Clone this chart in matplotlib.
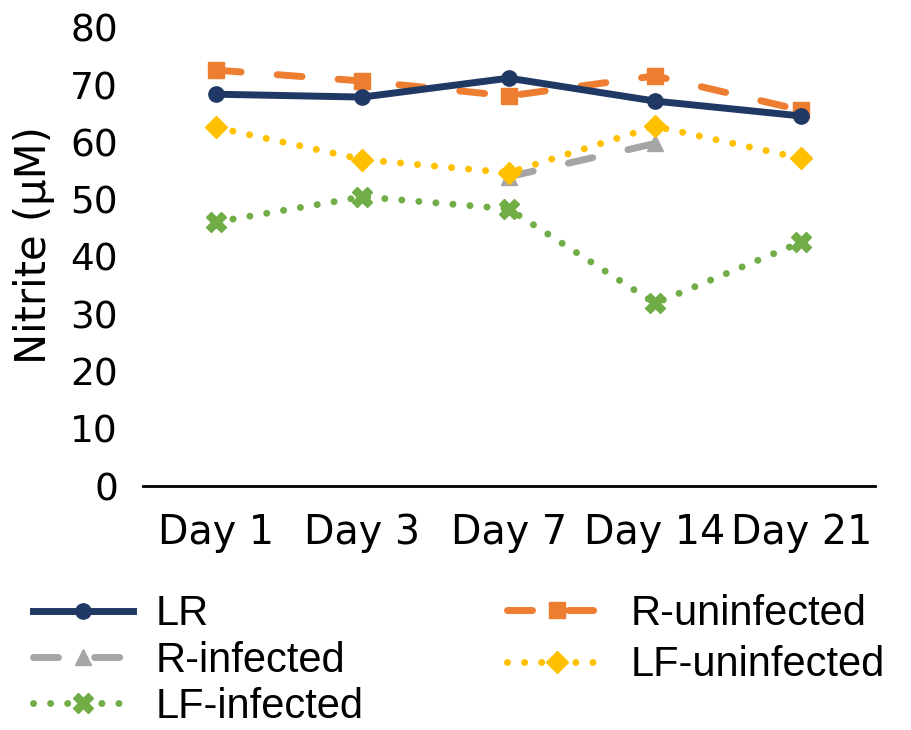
import numpy as np
import matplotlib
matplotlib.use("Agg")
import matplotlib.pyplot as plt

days = ["Day 1", "Day 3", "Day 7", "Day 14", "Day 21"]
lr = [68.4, 67.9, 71.2, 67.2, 64.6]
r_uninf = [72.6, 70.7, 68.1, 71.6, 65.6]
r_inf = [np.nan, np.nan, 54.0, 59.8, np.nan]
lf_uninf = [62.6, 57.0, 54.7, 62.8, 57.2]
lf_inf = [46.1, 50.5, 48.4, 31.9, 42.6]

plt.rcParams["font.family"] = ["DejaVu Sans"]

fig = plt.figure(figsize=(9.11, 7.3), dpi=100)
ax = fig.add_axes([0.157, 0.334, 0.803, 0.628])
x = np.arange(len(days))

lw = 5
l1, = ax.plot(x, lr, color="#203864", lw=lw, marker="o", ms=11, label="LR", zorder=5)
l2, = ax.plot(x, r_uninf, color="#ED7D31", lw=lw, marker="s", ms=11, label="R-uninfected",
              dashes=(3.6, 5.2), dash_capstyle="round", zorder=4)
l3, = ax.plot(x, r_inf, color="#A5A5A5", lw=lw, marker="^", ms=12, label="R-infected",
              dashes=(3.6, 5.2), dash_capstyle="round", zorder=2)
l4, = ax.plot(x, lf_uninf, color="#FFC000", lw=lw, marker="D", ms=11, label="LF-uninfected",
              dashes=(0.01, 2.45), dash_capstyle="round", zorder=3)
l5, = ax.plot(x, lf_inf, color="#70AD47", lw=lw, marker="X", ms=15, label="LF-infected",
              dashes=(0.01, 2.45), dash_capstyle="round", zorder=3)

ax.set_xlim(-0.5, 4.5)
ax.set_ylim(0, 80)
ax.set_yticks(range(0, 81, 10))
ax.set_xticks(x)
ax.set_xticklabels(days)
for s in ["top", "right", "left"]:
    ax.spines[s].set_visible(False)
ax.spines["bottom"].set_color("black")
ax.spines["bottom"].set_linewidth(2)
ax.tick_params(axis="y", length=0, labelsize=27, pad=18)
ax.tick_params(axis="x", length=0, labelsize=28.5, pad=19)
ax.set_ylabel("Nitrite (µM)", fontsize=30)
ax.yaxis.set_label_coords(-0.121, 0.526)

# two legends so each column gets its own row spacing, like the original
leg_font = {"family": "Liberation Sans", "size": 30}
common = dict(frameon=False, prop=leg_font, handlelength=2.4, handletextpad=0.55,
              borderpad=0, borderaxespad=0, loc="center left")
leg1 = fig.legend(handles=[l1, l3, l5], labelspacing=0.15,
                  bbox_to_anchor=(0.036, 0.095), **common)
leg2 = fig.legend(handles=[l2, l4], labelspacing=0.27,
                  bbox_to_anchor=(0.557, 0.124), **common)

fig.savefig("out.png", dpi=100)
